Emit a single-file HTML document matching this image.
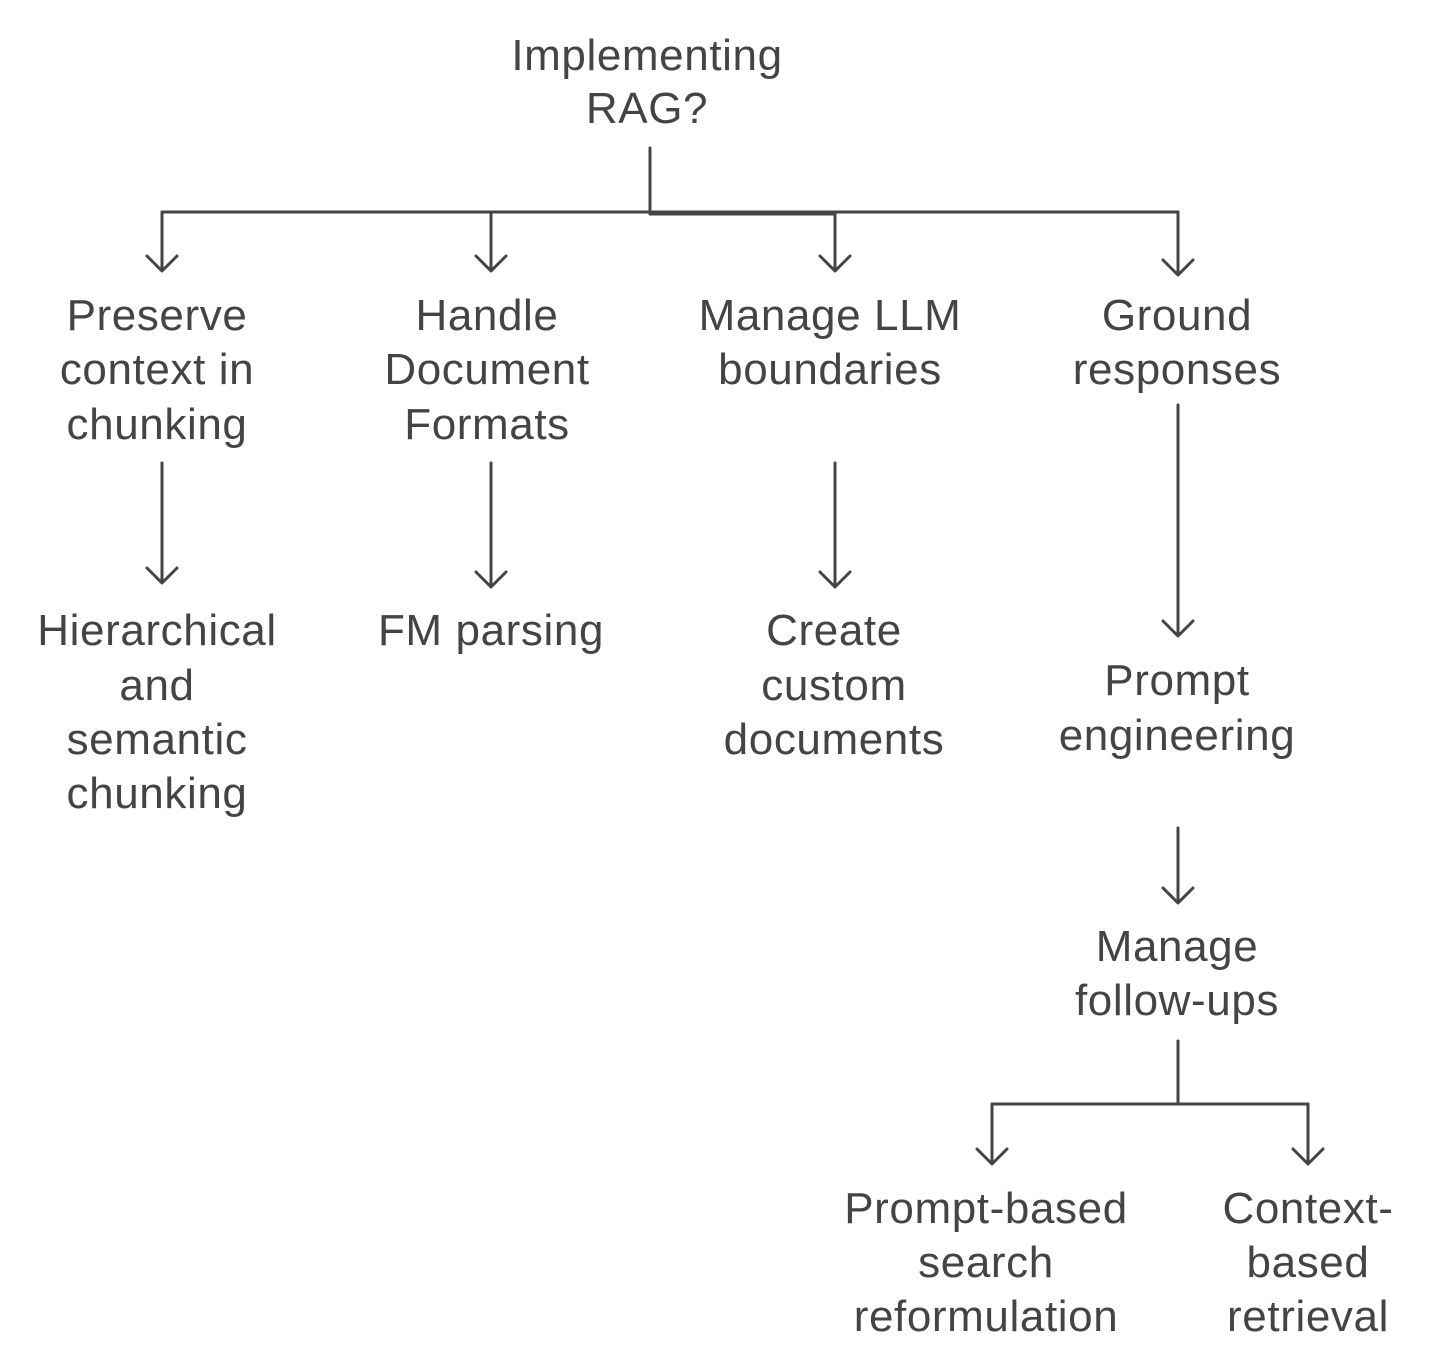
<!DOCTYPE html>
<html><head><meta charset="utf-8"><style>
html,body{margin:0;padding:0;background:#fff;}
svg{display:block;}
text{font-family:"Liberation Sans",Arial,sans-serif;font-size:44px;letter-spacing:0.6px;fill:#444;text-anchor:middle;}
</style></head><body>
<svg width="1430" height="1371" viewBox="0 0 1430 1371" xmlns="http://www.w3.org/2000/svg">
<g stroke="#444" stroke-width="3" fill="none" stroke-linecap="round" stroke-linejoin="round">
<path d="M650 148V212"/>
<path d="M162 212H1178"/>
<path d="M650 214H835"/>
<path d="M162 212V270M147 256L162 271L177 256"/>
<path d="M491 212V270M476 256L491 271L506 256"/>
<path d="M835 212V270M820 256L835 271L850 256"/>
<path d="M1178 212V274M1163 260L1178 275L1193 260"/>
<path d="M162 463V582M147 568L162 583L177 568"/>
<path d="M491 463V586M476 572L491 587L506 572"/>
<path d="M835 463V586M820 572L835 587L850 572"/>
<path d="M1178 405V635M1163 621L1178 636L1193 621"/>
<path d="M1178 828V902M1163 888L1178 903L1193 888"/>
<path d="M1178 1041V1104M992 1104H1308"/>
<path d="M992 1104V1163M977 1149L992 1164L1007 1149"/>
<path d="M1308 1104V1163M1293 1149L1308 1164L1323 1149"/>
</g>
<text x="647" y="70">Implementing</text>
<text x="647" y="123">RAG?</text>
<text x="157" y="330">Preserve</text>
<text x="157" y="384">context in</text>
<text x="157" y="439">chunking</text>
<text x="487" y="330">Handle</text>
<text x="487" y="384">Document</text>
<text x="487" y="439">Formats</text>
<text x="830" y="330">Manage LLM</text>
<text x="830" y="384">boundaries</text>
<text x="1177" y="330">Ground</text>
<text x="1177" y="384">responses</text>
<text x="157" y="645">Hierarchical</text>
<text x="157" y="700">and</text>
<text x="157" y="754">semantic</text>
<text x="157" y="808">chunking</text>
<text x="491" y="645">FM parsing</text>
<text x="834" y="645">Create</text>
<text x="834" y="700">custom</text>
<text x="834" y="754">documents</text>
<text x="1177" y="695">Prompt</text>
<text x="1177" y="750">engineering</text>
<text x="1177" y="961">Manage</text>
<text x="1177" y="1015">follow-ups</text>
<text x="986" y="1223">Prompt-based</text>
<text x="986" y="1277">search</text>
<text x="986" y="1331">reformulation</text>
<text x="1308" y="1223">Context-</text>
<text x="1308" y="1277">based</text>
<text x="1308" y="1331">retrieval</text>
</svg>
</body></html>
